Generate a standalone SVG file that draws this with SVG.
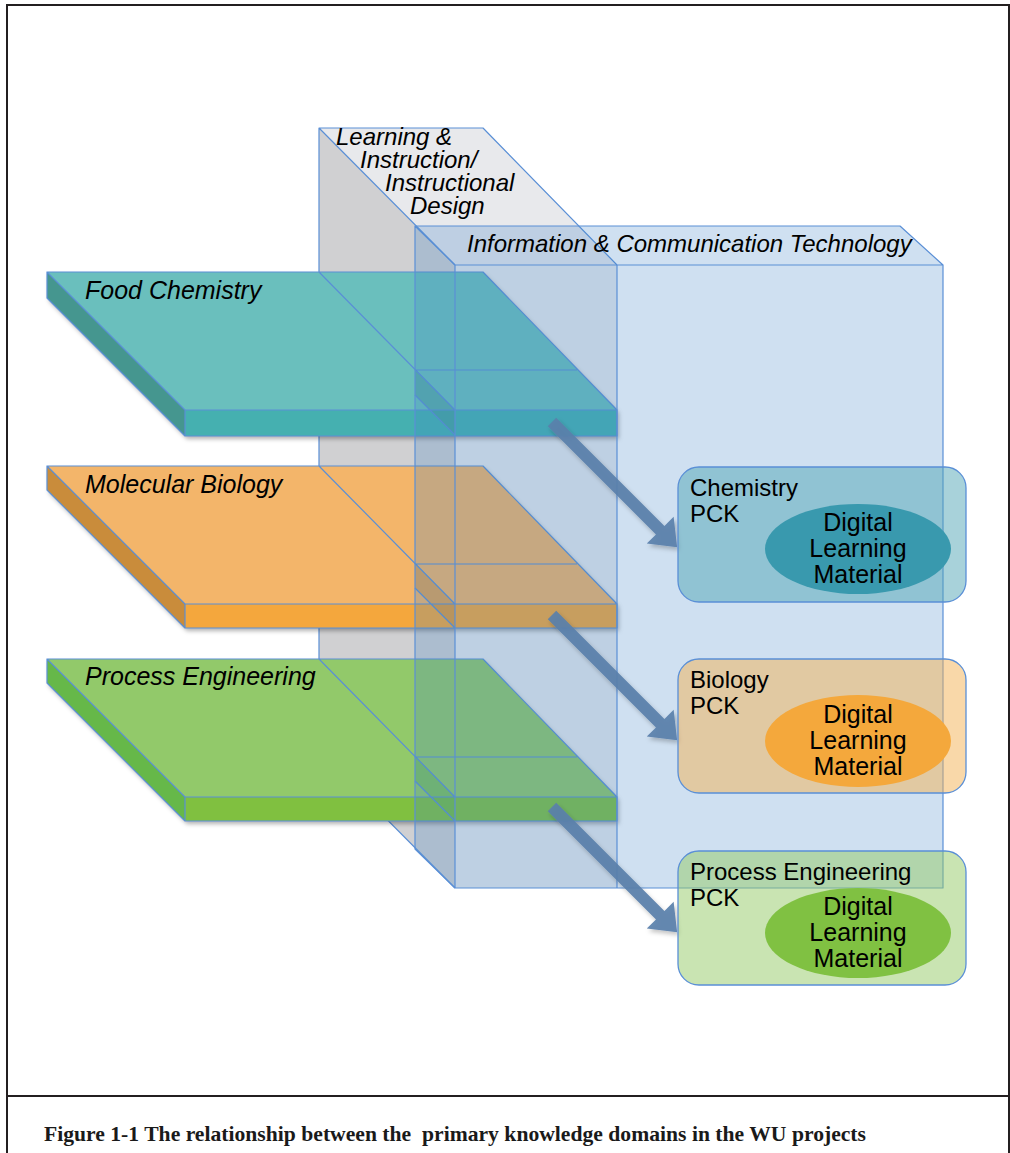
<svg xmlns="http://www.w3.org/2000/svg" width="1010" height="1153" viewBox="0 0 1010 1153">
<defs>
<style>
.ln{fill:none;stroke:#5a8fd6;stroke-width:1.2;stroke-linejoin:round}
.ict{fill:rgb(63,131,199);fill-opacity:0.25}
.lbl{font-family:"Liberation Sans",Arial,sans-serif;font-size:24px;fill:#000}
.it{font-style:italic}
.sl{font-size:25px}
.el{font-size:25px;text-anchor:middle}
.arrow{fill:#5a80ab;fill-opacity:0.92}
.pck{stroke:#5a8fd6;stroke-width:1.3}
.cap{font-family:"Liberation Serif","Times New Roman",serif;font-weight:bold;font-size:21px;fill:#1a1a1a}
</style>
<filter id="sh" x="-10%" y="-10%" width="130%" height="140%">
<feDropShadow dx="2" dy="3" stdDeviation="2.2" flood-color="#000" flood-opacity="0.3"/>
</filter>
<filter id="ash" x="-20%" y="-20%" width="150%" height="150%">
<feDropShadow dx="2" dy="3" stdDeviation="2" flood-color="#000" flood-opacity="0.25"/>
</filter>
<polygon id="arr" points="0,-6 153,-6 153,-19 177,0 153,19 153,6 0,6"/>
</defs>

<rect x="0" y="0" width="1010" height="1153" fill="#fff"/>

<g id="frame" fill="none" stroke="#231f20" stroke-width="2">
<path d="M7,1153 V5 H1009 V1153"/>
<path d="M7,1096 H1009"/>
</g>

<g id="learning-box">
<polygon points="319,128 455,265 455,888 319,751" fill="#d0d0d2"/>
<polygon points="319,128 483,128 617,265 455,265" fill="#e8e9ec"/>
<rect x="455" y="265" width="162" height="623" fill="#e8eaec"/>
<path class="ln" d="M319,751 V128 H483 L617,265 M319,128 L455,265 M319,751 L455,888"/>
<text class="lbl it" x="336" y="145">Learning &amp;</text>
<text class="lbl it" x="360" y="168">Instruction/</text>
<text class="lbl it" x="385" y="191">Instructional</text>
<text class="lbl it" x="410" y="214">Design</text>
</g>

<g id="food-chemistry">
<g filter="url(#sh)">
<polygon points="47,272 483,272 617,410 185,410" fill="#6bbfbd"/>
<rect x="185" y="410" width="432" height="26" fill="#45b0b0"/>
<polygon points="47,272 185,410 185,436 47,298" fill="#45968f"/>
</g>
<polygon points="415,370 455,410 455,435 415,395" fill="#45968f" fill-opacity="0.45"/>
<path class="ln" d="M47,272 H483 L617,410 H185 Z M185,410 V436 H617 V410 M47,272 V298 L185,436 M319,272 L455,410 M415,370 H577 M415,395 L455,435"/>
<text class="lbl it sl" x="85" y="299">Food Chemistry</text>
</g>

<g id="molecular-biology">
<g filter="url(#sh)">
<polygon points="47,466 483,466 617,604 185,604" fill="#f3b56a"/>
<rect x="185" y="604" width="432" height="24" fill="#f4a73c"/>
<polygon points="47,466 185,604 185,628 47,490" fill="#c98c3a"/>
</g>
<polygon points="415,564 455,604 455,628 415,588" fill="#c98c3a" fill-opacity="0.45"/>
<path class="ln" d="M47,466 H483 L617,604 H185 Z M185,604 V628 H617 V604 M47,466 V490 L185,628 M319,466 L455,604 M415,564 H577 M415,588 L455,628"/>
<text class="lbl it sl" x="85" y="493">Molecular Biology</text>
</g>

<g id="process-engineering">
<g filter="url(#sh)">
<polygon points="47,659 483,659 617,797 185,797" fill="#92c96b"/>
<rect x="185" y="797" width="432" height="24" fill="#80c040"/>
<polygon points="47,659 185,797 185,821 47,683" fill="#66b84a"/>
</g>
<polygon points="415,757 455,797 455,821 415,781" fill="#66b84a" fill-opacity="0.45"/>
<path class="ln" d="M47,659 H483 L617,797 H185 Z M185,797 V821 H617 V797 M47,659 V683 L185,821 M319,659 L455,797 M415,757 H577 M415,781 L455,821"/>
<text class="lbl it sl" x="85" y="685">Process Engineering</text>
</g>

<g id="ict-box">
<polygon class="ict" points="415,226 900,226 943,265 455,265"/>
<polygon class="ict" points="415,226 455,265 455,888 415,849"/>
<rect class="ict" x="455" y="265" width="488" height="623"/>
<path class="ln" d="M415,226 H900 L943,265 H455 Z M455,265 V888 H943 V265 M415,226 V849 L455,888 M617,265 V888"/>
<text class="lbl it" x="467" y="252">Information &amp; Communication Technology</text>
</g>

<g id="connectors" filter="url(#ash)">
<use href="#arr" class="arrow" transform="translate(552,422) rotate(45)"/>
<use href="#arr" class="arrow" transform="translate(552,615) rotate(45)"/>
<use href="#arr" class="arrow" transform="translate(552,807) rotate(45)"/>
</g>

<g id="chemistry-pck">
<rect class="pck" x="678" y="467" width="288" height="135" rx="21" fill="rgb(81,165,181)" fill-opacity="0.5"/>
<text class="lbl" x="690" y="496">Chemistry</text>
<text class="lbl" x="690" y="522">PCK</text>
<ellipse cx="858" cy="549" rx="93" ry="45" fill="#3999ae"/>
<text class="lbl el" x="858" y="531">Digital</text>
<text class="lbl el" x="858" y="557">Learning</text>
<text class="lbl el" x="858" y="583">Material</text>
</g>

<g id="biology-pck">
<rect class="pck" x="678" y="659" width="288" height="134" rx="21" fill="rgb(243,177,83)" fill-opacity="0.5"/>
<text class="lbl" x="690" y="688">Biology</text>
<text class="lbl" x="690" y="714">PCK</text>
<ellipse cx="858" cy="741" rx="93" ry="46" fill="#f4a83c"/>
<text class="lbl el" x="858" y="723">Digital</text>
<text class="lbl el" x="858" y="749">Learning</text>
<text class="lbl el" x="858" y="775">Material</text>
</g>

<g id="process-engineering-pck">
<rect class="pck" x="678" y="851" width="288" height="134" rx="21" fill="rgb(147,201,101)" fill-opacity="0.5"/>
<text class="lbl" x="690" y="880">Process Engineering</text>
<text class="lbl" x="690" y="906">PCK</text>
<ellipse cx="858" cy="933" rx="93" ry="45" fill="#80c142"/>
<text class="lbl el" x="858" y="915">Digital</text>
<text class="lbl el" x="858" y="941">Learning</text>
<text class="lbl el" x="858" y="967">Material</text>
</g>

<text class="cap" x="44" y="1141" textLength="822" lengthAdjust="spacingAndGlyphs" xml:space="preserve">Figure 1-1 The relationship between the  primary knowledge domains in the WU projects</text>
</svg>
